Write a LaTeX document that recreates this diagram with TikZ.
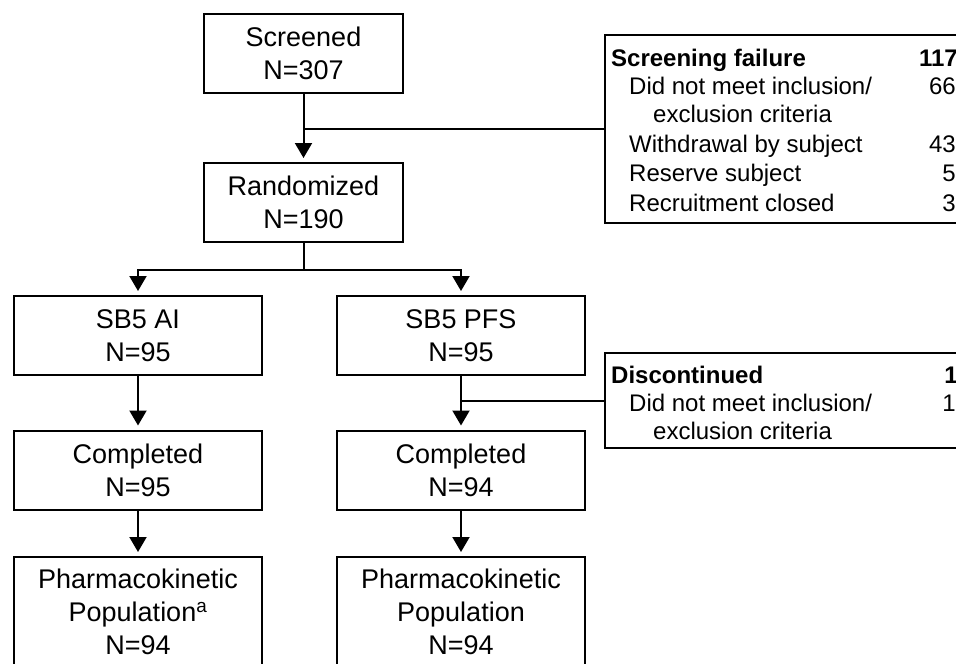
\documentclass[tikz,border=0pt]{standalone}
\usepackage{fontspec}
\setmainfont{Liberation Sans}
\usetikzlibrary{arrows.meta}
\begin{document}
\begin{tikzpicture}[x=1pt,y=-1pt,
  box/.style={draw, line width=2pt, minimum width=248pt, minimum height=79pt, align=center,
    font=\fontsize{27}{33}\selectfont, inner sep=0pt},
  conn/.style={line width=2pt},
  arr/.style={conn, -{Triangle[width=17pt,length=15pt]}, shorten >=4pt},
  sidebox/.style={draw, line width=2pt, inner sep=0pt, minimum width=420pt, anchor=north west},
  st/.style={font=\fontsize{24}{28}\selectfont, inner sep=0pt, anchor=base west},
  sn/.style={font=\fontsize{24}{28}\selectfont, inner sep=0pt, anchor=base east},
]
\useasboundingbox (0,0) rectangle (956,664);

% main column nodes
\node[box, minimum width=199pt] (scr) at (303.5,53.5) {Screened\\N=307};
\node[box, minimum width=199pt] (ran) at (303.5,202.5) {Randomized\\N=190};
\node[box] (ai)  at (138,335.5) {SB5 AI\\N=95};
\node[box] (pfs) at (461,335.5) {SB5 PFS\\N=95};
\node[box] (cl)  at (138,470) {Completed\\N=95};
\node[box] (cr)  at (461,470) {Completed\\N=94};
\node[box, minimum height=110pt] (pkl) at (138,612) {Pharmacokinetic\\Population\textsuperscript{a}\\N=94};
\node[box, minimum height=110pt] (pkr) at (461,612) {Pharmacokinetic\\Population\\N=94};

% side boxes
\node[sidebox, minimum height=188pt] (sf) at (604,34) {};
\node[sidebox, minimum height=95pt] (dc) at (604,352) {};

% screening failure text
\node[st] (sf0) at (611,66) {\bfseries Screening failure};
\node[sn] (sf0n) at (958,66) {\bfseries 117};
\node[st] (sf1) at (629,94) {Did not meet inclusion/};
\node[sn] (sf1n) at (956,94) {66};
\node[st] (sf2) at (653,122) {exclusion criteria};
\node[st] (sf3) at (629,152) {Withdrawal by subject};
\node[sn] (sf3n) at (956,152) {43};
\node[st] (sf4) at (629,181) {Reserve subject};
\node[sn] (sf4n) at (956,181) {5};
\node[st] (sf5) at (629,211) {Recruitment closed};
\node[sn] (sf5n) at (956,211) {3};

% discontinued text
\node[st] (dc0) at (611,383) {\bfseries Discontinued};
\node[sn] (dc0n) at (958,383) {\bfseries 1};
\node[st] (dc1) at (629,411) {Did not meet inclusion/};
\node[sn] (dc1n) at (956,411) {1};
\node[st] (dc2) at (653,439) {exclusion criteria};

% connectors
\draw[arr] (scr.south) -- (ran.north);
\draw[conn] (scr.south |- sf.west) -- (sf.west);
\draw[conn] (ran.south) -- ++(0,27) coordinate (br);
\draw[arr] (br) -| (ai.north);
\draw[arr] (br) -| (pfs.north);
\draw[arr] (ai.south) -- (cl.north);
\draw[arr] (pfs.south) -- (cr.north);
\draw[conn] (pfs.south |- dc.west) -- (dc.west);
\draw[arr] (cl.south) -- (pkl.north);
\draw[arr] (cr.south) -- (pkr.north);
\end{tikzpicture}
\end{document}
